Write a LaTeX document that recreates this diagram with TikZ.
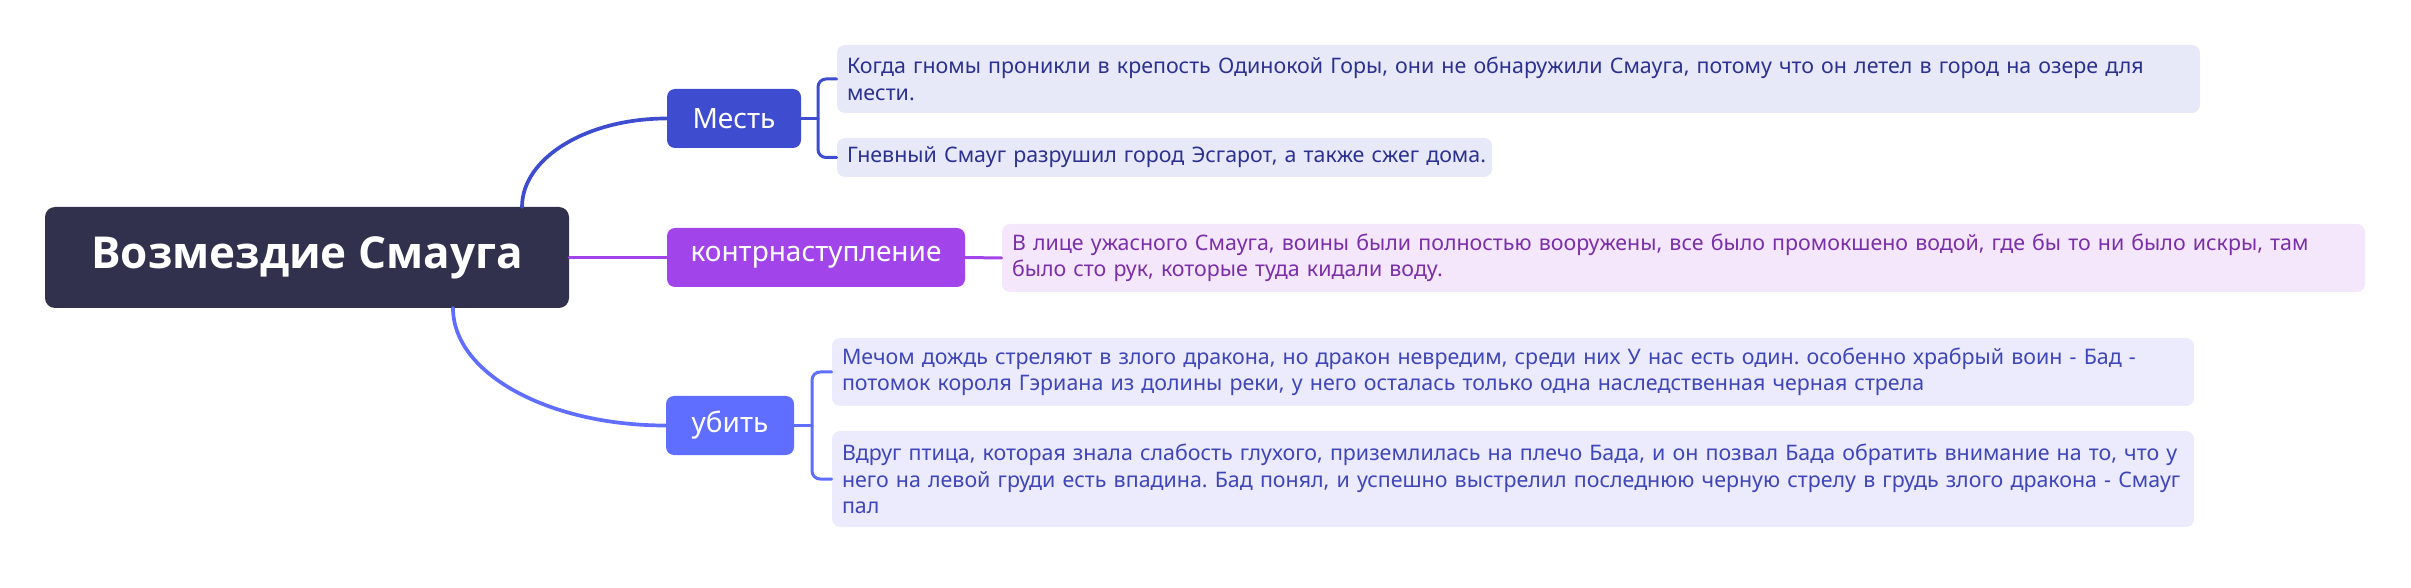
\documentclass[tikz,border=0pt]{standalone}
\usepackage{fontspec}
\setmainfont{Noto Sans}
\newfontfamily\rootfont{Open Sans}
\usepackage{color}
\definecolor{rootc}{HTML}{31314D}
\definecolor{mestc}{HTML}{3E4CCF}
\definecolor{kontrc}{HTML}{A145EA}
\definecolor{ubitc}{HTML}{5F6EFF}
\definecolor{mestfill}{HTML}{E8E9F8}
\definecolor{mesttext}{HTML}{2C318F}
\definecolor{kontrfill}{HTML}{F4E7FC}
\definecolor{kontrtext}{HTML}{7B2FA8}
\definecolor{ubitfill}{HTML}{EBEBFD}
\definecolor{ubittext}{HTML}{3F46B8}
\frenchspacing

\begin{document}
\begin{tikzpicture}[line cap=round,line join=round,x=0.5pt,y=-0.5pt,
    topic/.style={rectangle,rounded corners=5pt,fill=rootc,text=white,inner sep=0pt,
      font=\rootfont\bfseries\fontsize{22}{27}\selectfont,minimum width=262pt,minimum height=50.5pt},
    sub/.style={rectangle,rounded corners=4pt,text=white,inner sep=0pt,
      font=\fontsize{14}{17}\selectfont,minimum height=29.5pt},
    note/.style={rectangle,rounded corners=4pt,inner xsep=5pt,inner ysep=0pt,align=left,
      font=\fontsize{10.7}{13.3}\selectfont},
    link/.style={line width=1.85pt},
    fork/.style={line width=1.5pt,rounded corners=4pt}]
      \useasboundingbox (0,0) rectangle (2411,588);
      % branches behind the boxes
      \coordinate (mestroot) at (522,207);
      \coordinate (ubitroot) at (453,308);
      \coordinate (mestfork) at (818,118.5);
      \coordinate (ubitfork) at (812,425.5);
      % root and main topics
      \node[topic] (root) at (307,257.5) {Возмездие Смауга};
      \node[sub,fill=mestc,minimum width=67pt] (mest) at (734,118.5) {Месть};
      \node[sub,fill=kontrc,minimum width=149pt] (kontr) at (816,257.5) {контрнаступление};
      \node[sub,fill=ubitc,minimum width=64pt] (ubit) at (730,425.5) {убить};
      % notes
      \node[note,fill=mestfill,text=mesttext,text width=671.5pt,minimum height=34pt] (mest1) at (1518.5,79)
        {Когда гномы проникли в крепость Одинокой Горы, они не обнаружили Смауга, потому что он летел в город на озере для\\мести.};
      \node[note,fill=mestfill,text=mesttext,text width=317.5pt,minimum height=19.5pt] (mest2) at (1164.5,157.5)
        {\mbox{Гневный Смауг разрушил город Эсгарот, а также сжег дома.}};
      \node[note,fill=kontrfill,text=kontrtext,text width=671.5pt,minimum height=34pt] (kontr1) at (1683.5,258)
        {В лице ужасного Смауга, воины были полностью вооружены, все было промокшено водой, где бы то ни было искры, там\\было сто рук, которые туда кидали воду.};
      \node[note,fill=ubitfill,text=ubittext,text width=671pt,minimum height=34pt] (ubit1) at (1513,372)
        {Мечом дождь стреляют в злого дракона, но дракон невредим, среди них У нас есть один. особенно храбрый воин - Бад -\\потомок короля Гэриана из долины реки, у него осталась только одна наследственная черная стрела};
      \node[note,fill=ubitfill,text=ubittext,text width=671pt,minimum height=48pt] (ubit2) at (1513,479)
        {Вдруг птица, которая знала слабость глухого, приземлилась на плечо Бада, и он позвал Бада обратить внимание на то, что у\\него на левой груди есть впадина. Бад понял, и успешно выстрелил последнюю черную стрелу в грудь злого дракона - Смауг\\пал};
      % connectors
      \draw [link,color=mestc] (mestroot) .. controls +(0,-49) and +(-80,0) .. (mest.west);
      \draw [link,color=kontrc] (root.east) -- (kontr.west);
      \draw [link,color=ubitc] (ubitroot) .. controls +(0,65) and +(-118,0) .. (ubit.west);
      \draw [fork,color=mestc] (mest.east) -- (mestfork);
      \draw [fork,color=mestc] (mest1.west) -| (mestfork) |- (mest2.west);
      \draw [fork,color=kontrc] (kontr.east) -- (kontr1.west);
      \draw [fork,color=ubitc] (ubit.east) -- (ubitfork);
      \draw [fork,color=ubitc] (ubit1.west) -| (ubitfork) |- (ubit2.west);
    \end{tikzpicture}
\end{document}
